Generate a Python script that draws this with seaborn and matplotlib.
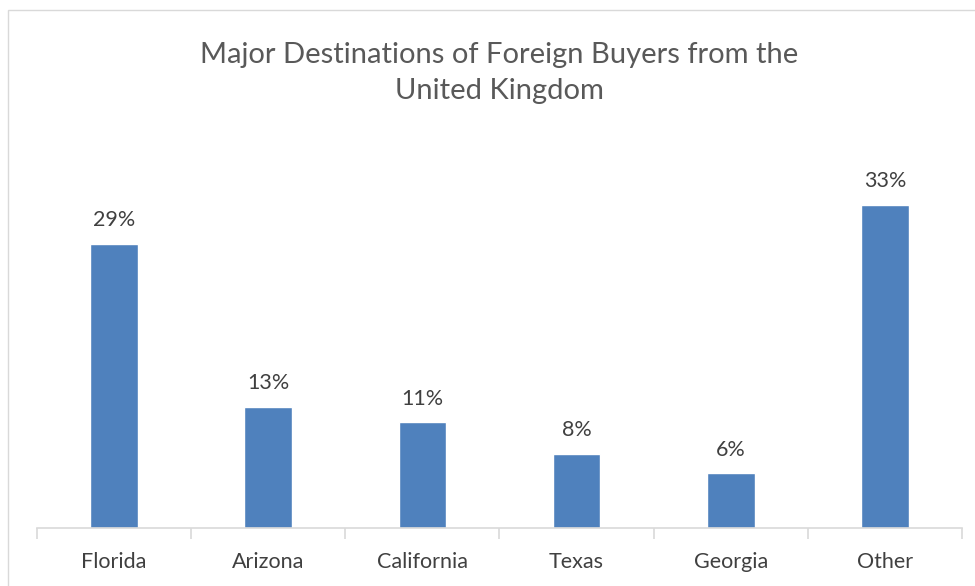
import matplotlib
matplotlib.use("Agg")

import matplotlib.pyplot as plt
import numpy as np
import seaborn as sns
from matplotlib.patches import Rectangle

# ---------------------------------------------------------------------------
# Data
# ---------------------------------------------------------------------------
states = ["Florida", "Arizona", "California", "Texas", "Georgia", "Other"]
shares = [29.0, 12.4, 10.8, 7.6, 5.6, 33.0]
share_labels = ["29%", "13%", "11%", "8%", "6%", "33%"]

TITLE = "Major Destinations of Foreign Buyers from the\nUnited Kingdom"

BAR = "#4F81BD"
GRID = "#D9D9D9"
TEXT = "#404040"
TITLE_C = "#595959"
W, H = 975, 586

sns.set_style("white")
plt.rcParams["font.family"] = ["Lato", "DejaVu Sans"]

fig = plt.figure(figsize=(W / 100, H / 100), dpi=100)

# chart-area border (cropped on the right/bottom like the reference)
fig.patches.append(Rectangle((8 / W, -0.1), 1.2, 1 - 10 / H + 0.1,
                             transform=fig.transFigure, fill=False,
                             edgecolor=GRID, linewidth=1.0))

ax = fig.add_axes([37 / W, 1 - 528 / H, (962 - 37) / W, (528 - 185.35) / H])

sns.barplot(x=states, y=shares, color=BAR, saturation=1, width=0.31, ax=ax)

ax.set_xlim(-0.5, len(states) - 0.5)
ax.set_ylim(0, 35)

for i, (v, lab) in enumerate(zip(shares, share_labels)):
    ax.annotate(lab, (i, v), xytext=(0, 17), textcoords="offset points",
                ha="center", va="center", fontsize=15.5, color=TEXT)

for side in ("top", "right", "left"):
    ax.spines[side].set_visible(False)
ax.spines["bottom"].set_color(GRID)
ax.spines["bottom"].set_linewidth(1.2)

ax.set_yticks([])
ax.set_xticks(np.arange(-0.5, len(states)), minor=True)
ax.tick_params(axis="x", which="major", bottom=False, length=0, pad=17,
               labelsize=15.5, labelcolor=TEXT)
ax.tick_params(axis="x", which="minor", bottom=True, length=8, width=1.2,
               color=GRID, direction="out")
ax.set_xlabel("")
ax.set_ylabel("")

fig.text(499 / W, 1 - 73 / H, TITLE, ha="center", va="center",
         fontsize=21, color=TITLE_C, linespacing=1.45)

fig.savefig("out.png", dpi=100, facecolor="white")
